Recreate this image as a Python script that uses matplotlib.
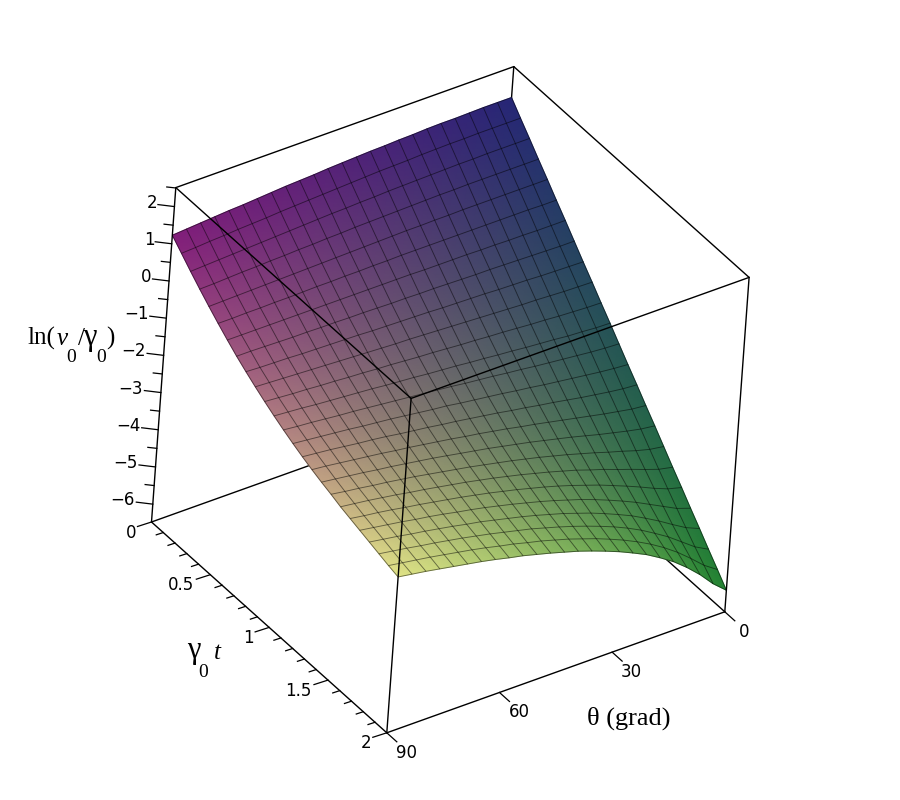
import numpy as np
import matplotlib
matplotlib.use('Agg')
import matplotlib.pyplot as plt
from matplotlib.collections import LineCollection

t_nodes = [i / 12 for i in range(25)]
theta_nodes = [i * 3.75 for i in range(25)]

# ln(v0/gamma0) at the grid nodes, estimated from the picture and smoothed by hand-fit
# rows: gamma0 t = 0 ... 2, columns: theta = 0 ... 90
z_grid = [
    [1.68, 1.68, 1.68, 1.67, 1.66, 1.66, 1.65, 1.63, 1.62, 1.60, 1.59, 1.57, 1.55, 1.53, 1.50, 1.48, 1.46, 1.43, 1.40, 1.37, 1.35, 1.32, 1.29, 1.26, 1.23],
    [1.36, 1.36, 1.36, 1.36, 1.35, 1.35, 1.34, 1.33, 1.31, 1.30, 1.29, 1.27, 1.25, 1.23, 1.21, 1.19, 1.17, 1.15, 1.12, 1.10, 1.08, 1.05, 1.03, 1.00, 0.98],
    [1.05, 1.05, 1.05, 1.05, 1.04, 1.04, 1.03, 1.02, 1.01, 1.00, 0.99, 0.97, 0.96, 0.94, 0.93, 0.91, 0.89, 0.87, 0.85, 0.83, 0.81, 0.79, 0.77, 0.75, 0.73],
    [0.73, 0.73, 0.73, 0.73, 0.73, 0.73, 0.72, 0.72, 0.71, 0.70, 0.69, 0.68, 0.67, 0.66, 0.64, 0.63, 0.61, 0.60, 0.58, 0.57, 0.55, 0.54, 0.52, 0.50, 0.49],
    [0.42, 0.42, 0.42, 0.42, 0.42, 0.42, 0.42, 0.41, 0.41, 0.40, 0.40, 0.39, 0.38, 0.37, 0.36, 0.35, 0.34, 0.33, 0.32, 0.31, 0.30, 0.29, 0.28, 0.27, 0.26],
    [0.10, 0.10, 0.11, 0.11, 0.11, 0.11, 0.11, 0.11, 0.11, 0.11, 0.11, 0.11, 0.10, 0.10, 0.09, 0.09, 0.08, 0.08, 0.07, 0.06, 0.06, 0.05, 0.05, 0.04, 0.04],
    [-0.21, -0.21, -0.21, -0.20, -0.20, -0.19, -0.19, -0.18, -0.18, -0.18, -0.18, -0.17, -0.17, -0.17, -0.17, -0.17, -0.17, -0.17, -0.17, -0.17, -0.17, -0.17, -0.17, -0.17, -0.17],
    [-0.53, -0.53, -0.52, -0.51, -0.50, -0.49, -0.48, -0.48, -0.47, -0.46, -0.45, -0.45, -0.44, -0.44, -0.43, -0.42, -0.42, -0.41, -0.41, -0.40, -0.40, -0.39, -0.38, -0.37, -0.37],
    [-0.85, -0.84, -0.83, -0.82, -0.80, -0.79, -0.78, -0.76, -0.75, -0.74, -0.73, -0.71, -0.70, -0.69, -0.68, -0.67, -0.65, -0.64, -0.63, -0.62, -0.61, -0.59, -0.58, -0.57, -0.55],
    [-1.16, -1.15, -1.14, -1.12, -1.10, -1.09, -1.07, -1.05, -1.03, -1.01, -0.99, -0.97, -0.95, -0.93, -0.92, -0.90, -0.88, -0.86, -0.84, -0.82, -0.80, -0.78, -0.76, -0.74, -0.72],
    [-1.48, -1.47, -1.45, -1.43, -1.40, -1.38, -1.35, -1.32, -1.30, -1.27, -1.25, -1.22, -1.19, -1.17, -1.14, -1.11, -1.09, -1.06, -1.04, -1.01, -0.99, -0.96, -0.94, -0.91, -0.88],
    [-1.79, -1.78, -1.75, -1.73, -1.69, -1.66, -1.63, -1.59, -1.56, -1.52, -1.49, -1.45, -1.42, -1.39, -1.35, -1.32, -1.29, -1.25, -1.22, -1.19, -1.16, -1.13, -1.09, -1.06, -1.03],
    [-2.11, -2.09, -2.06, -2.02, -1.98, -1.94, -1.90, -1.85, -1.81, -1.76, -1.72, -1.68, -1.63, -1.59, -1.55, -1.51, -1.47, -1.43, -1.39, -1.35, -1.32, -1.28, -1.24, -1.21, -1.17],
    [-2.43, -2.40, -2.36, -2.31, -2.26, -2.21, -2.16, -2.10, -2.05, -1.99, -1.94, -1.89, -1.84, -1.78, -1.74, -1.69, -1.64, -1.59, -1.55, -1.51, -1.46, -1.42, -1.38, -1.34, -1.30],
    [-2.74, -2.71, -2.66, -2.60, -2.54, -2.47, -2.40, -2.34, -2.27, -2.21, -2.14, -2.08, -2.02, -1.96, -1.91, -1.85, -1.80, -1.75, -1.69, -1.64, -1.60, -1.55, -1.50, -1.46, -1.42],
    [-3.06, -3.02, -2.95, -2.88, -2.80, -2.72, -2.64, -2.56, -2.48, -2.41, -2.33, -2.26, -2.19, -2.13, -2.06, -2.00, -1.94, -1.88, -1.83, -1.77, -1.72, -1.67, -1.62, -1.57, -1.53],
    [-3.37, -3.32, -3.24, -3.15, -3.06, -2.96, -2.86, -2.77, -2.68, -2.59, -2.51, -2.43, -2.35, -2.28, -2.21, -2.14, -2.07, -2.01, -1.95, -1.89, -1.84, -1.78, -1.73, -1.68, -1.63],
    [-3.69, -3.63, -3.53, -3.41, -3.30, -3.18, -3.07, -2.96, -2.86, -2.76, -2.67, -2.58, -2.50, -2.42, -2.34, -2.27, -2.20, -2.13, -2.06, -2.00, -1.94, -1.89, -1.83, -1.78, -1.72],
    [-4.01, -3.93, -3.80, -3.66, -3.53, -3.39, -3.27, -3.14, -3.03, -2.92, -2.82, -2.72, -2.63, -2.54, -2.46, -2.38, -2.31, -2.24, -2.17, -2.11, -2.04, -1.98, -1.92, -1.87, -1.82],
    [-4.32, -4.22, -4.07, -3.90, -3.74, -3.59, -3.44, -3.31, -3.18, -3.06, -2.95, -2.85, -2.75, -2.66, -2.57, -2.49, -2.41, -2.34, -2.27, -2.20, -2.14, -2.07, -2.01, -1.96, -1.90],
    [-4.64, -4.51, -4.32, -4.13, -3.94, -3.77, -3.61, -3.46, -3.32, -3.20, -3.08, -2.97, -2.87, -2.77, -2.68, -2.59, -2.51, -2.44, -2.36, -2.29, -2.23, -2.16, -2.10, -2.04, -1.98],
    [-4.95, -4.79, -4.57, -4.34, -4.13, -3.93, -3.76, -3.60, -3.45, -3.32, -3.19, -3.08, -2.97, -2.87, -2.78, -2.69, -2.60, -2.53, -2.45, -2.38, -2.31, -2.25, -2.18, -2.12, -2.06],
    [-5.27, -5.07, -4.80, -4.53, -4.30, -4.08, -3.89, -3.72, -3.57, -3.43, -3.30, -3.18, -3.07, -2.96, -2.87, -2.78, -2.69, -2.61, -2.53, -2.46, -2.39, -2.33, -2.26, -2.20, -2.14],
    [-5.58, -5.33, -5.01, -4.71, -4.45, -4.22, -4.02, -3.84, -3.68, -3.53, -3.40, -3.27, -3.16, -3.05, -2.96, -2.86, -2.78, -2.69, -2.61, -2.54, -2.47, -2.40, -2.34, -2.28, -2.22],
    [-5.90, -5.59, -5.21, -4.88, -4.59, -4.35, -4.13, -3.95, -3.78, -3.63, -3.49, -3.36, -3.25, -3.14, -3.04, -2.94, -2.86, -2.77, -2.69, -2.62, -2.55, -2.48, -2.41, -2.35, -2.29],
]

z_ticks = [2, 1, 0, -1, -2, -3, -4, -5, -6]
z_minor_ticks = [2.5, 1.5, 0.5, -0.5, -1.5, -2.5, -3.5, -4.5, -5.5]
t_ticks = [0, 0.5, 1, 1.5, 2]
t_minor_ticks = [0.1, 0.2, 0.3, 0.4, 0.6, 0.7, 0.8, 0.9, 1.1, 1.2, 1.3, 1.4, 1.6, 1.7, 1.8, 1.9]
theta_ticks = [0, 30, 60, 90]
t_tick_labels = ['0', '0.5', '1', '1.5', '2']
theta_tick_labels = ['0', '30', '60', '90']

z_bot, z_top = -6.48, 2.51
t_max, theta_max = 2, 90

# pixel position of the box corner and the three box edges, the picture is a plain orthographic view
O = np.array([489.5, 401.0])
T = np.array([235.3, 210.8])
TH = np.array([-338.0, 121.0])
V = np.array([24.3, -334.4])

def project(t, th, z):
    t, th, z = np.asarray(t, float), np.asarray(th, float), np.asarray(z, float)
    w = (z - z_bot) / (z_top - z_bot)
    return (O[0] + t / t_max * T[0] + th / theta_max * TH[0] + w * V[0],
            O[1] + t / t_max * T[1] + th / theta_max * TH[1] + w * V[1])

fig = plt.figure(figsize=(9, 8), dpi=100)
ax = fig.add_axes([0, 0, 1, 1])
ax.set_xlim(0, 900)
ax.set_ylim(800, 0)
ax.axis('off')

def seg(p, q, zorder):
    x, y = project([p[0], q[0]], [p[1], q[1]], [p[2], q[2]])
    ax.plot(x, y, color='black', lw=1.0, zorder=zorder, solid_capstyle='round')

def tick(p, dx, dy):
    x, y = project(*p)
    ax.plot([x, x + dx], [y, y + dy], color='black', lw=0.9, zorder=4)

# rear box edges go under the surface
for p, q in [((0, 0, z_bot), (2, 0, z_bot)), ((0, 0, z_bot), (0, 90, z_bot)), ((0, 0, z_bot), (0, 0, z_top))]:
    seg(p, q, 1)

z_arr = np.array(z_grid)
tt, thth = np.meshgrid(t_nodes, theta_nodes, indexing='ij')
X, Y = project(tt, thth, z_arr)

# colour follows t and theta, blended from the four corners
s = (tt / t_max)[..., None]
u = (thth / theta_max)[..., None]
c00 = np.array([38, 38, 118]) / 255
c01 = np.array([130, 30, 122]) / 255
c10 = np.array([35, 132, 50]) / 255
c11 = np.array([225, 228, 135]) / 255
rgb = (1 - s) * (1 - u) * c00 + (1 - s) * u * c01 + s * (1 - u) * c10 + s * u * c11
ax.pcolormesh(X, Y, rgb, shading='gouraud', zorder=2)

lines = [np.column_stack([X[i], Y[i]]) for i in range(25)] + [np.column_stack([X[:, j], Y[:, j]]) for j in range(25)]
ax.add_collection(LineCollection(lines, colors=[(0, 0, 0, 0.5)], linewidths=0.65, zorder=3))

for p, q in [((0, 90, z_top), (0, 0, z_top)), ((0, 0, z_top), (2, 0, z_top)), ((0, 90, z_top), (2, 90, z_top)),
             ((2, 0, z_top), (2, 90, z_top)), ((2, 90, z_bot), (2, 90, z_top)), ((2, 0, z_bot), (2, 0, z_top)),
             ((0, 90, z_bot), (0, 90, z_top)), ((0, 90, z_bot), (2, 90, z_bot)), ((2, 90, z_bot), (2, 0, z_bot))]:
    seg(p, q, 4)

# ticks and their labels, offsets measured from the axis
def tick_label(p, dx, dy, s):
    x, y = project(*p)
    ax.text(x + dx, y + dy, s, fontsize=12, ha='center', va='center')

for zv in z_ticks:
    tick((0, 90, zv), -16.5, -2)
    x_off = -22.5 if zv >= 0 else -30
    tick_label((0, 90, zv), x_off, -4, str(zv).replace('-', '\u2212'))
for zv in z_minor_ticks:
    tick((0, 90, zv), -9, -1)
for tv, lab in zip(t_ticks, t_tick_labels):
    tick((tv, 90, z_bot), -14, 4.5)
    x_off = -29.5 if len(lab) > 1 else -20.5
    tick_label((tv, 90, z_bot), x_off, 10.5, lab)
for tv in t_minor_ticks:
    tick((tv, 90, z_bot), -7, 2.3)
for thv, lab in zip(theta_ticks, theta_tick_labels):
    tick((2, thv, z_bot), 10, 9)
    tick_label((2, thv, z_bot), 19.5, 20, lab)

def run(x, y, s, size=18, style='normal'):
    ax.text(x, y, s, fontsize=size, family='Liberation Serif', style=style, ha='left', va='baseline')

# axis titles, the subscripts sit low as in the original
run(27, 345, 'ln(')
run(56.5, 345, 'v', style='italic')
run(66.5, 362, '0', size=14)
run(78, 345, '/')
run(83.5, 345, '\u03b3', size=22)
run(96.5, 362, '0', size=14)
run(106.5, 345, ')')
run(587, 725, '\u03b8 (grad)', size=19)
run(187, 658, '\u03b3', size=22)
run(198.5, 677, '0', size=14)
run(214, 659, 't', style='italic')

fig.savefig('out.png', dpi=100)
